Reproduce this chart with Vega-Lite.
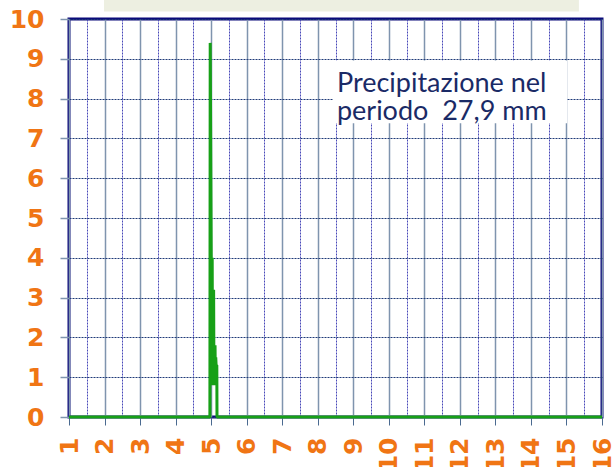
{
  "$schema": "https://vega.github.io/schema/vega-lite/v6.json",
  "width": 533,
  "height": 398,
  "autosize": "none",
  "padding": {"left": 69, "top": 19, "right": 14, "bottom": 50},
  "background": "white",
  "config": {"view": {"stroke": "#0b0b7a", "strokeWidth": 3}},
  "datasets": {
    "rain": [
      {"i": 0, "x": 1, "y": 0},
      {"i": 1, "x": 4.965, "y": 0},
      {"i": 2, "x": 4.974, "y": 9.4},
      {"i": 3, "x": 5.02, "y": 0.8},
      {"i": 4, "x": 5.03, "y": 4.0},
      {"i": 5, "x": 5.04, "y": 0.8},
      {"i": 6, "x": 5.05, "y": 3.2},
      {"i": 7, "x": 5.06, "y": 0.8},
      {"i": 8, "x": 5.07, "y": 3.2},
      {"i": 9, "x": 5.08, "y": 0.8},
      {"i": 10, "x": 5.09, "y": 1.8},
      {"i": 11, "x": 5.1, "y": 0.8},
      {"i": 12, "x": 5.11, "y": 1.8},
      {"i": 13, "x": 5.12, "y": 0.8},
      {"i": 14, "x": 5.13, "y": 1.5},
      {"i": 15, "x": 5.14, "y": 1.3},
      {"i": 16, "x": 5.16, "y": 1.3},
      {"i": 17, "x": 5.165, "y": 0},
      {"i": 18, "x": 16, "y": 0}
    ],
    "banner": [{"x": 1.985, "x2": 15.35, "y": 10.19, "y2": 10.5}],
    "box": [{"x": 8.43, "x2": 15.02, "y": 7.38, "y2": 8.96}],
    "note": [{"x": 8.54, "y": 8.17, "label": "Precipitazione nel\nperiodo\u00a0 27,9 mm"}]
  },
  "encoding": {
    "x": {
      "field": "x",
      "type": "quantitative",
      "scale": {"domain": [1, 16], "nice": false, "zero": false},
      "axis": {
        "title": null,
        "values": [1, 1.5, 2, 2.5, 3, 3.5, 4, 4.5, 5, 5.5, 6, 6.5, 7, 7.5, 8, 8.5, 9, 9.5, 10, 10.5, 11, 11.5, 12, 12.5, 13, 13.5, 14, 14.5, 15, 15.5, 16],
        "labelExpr": "datum.value % 1 === 0 ? format(datum.value, 'd') : ''",
        "labelAngle": -90,
        "labelFont": "DejaVu Sans",
        "labelFontWeight": "bold",
        "labelFontSize": 25,
        "labelColor": "#f07514",
        "labelPadding": 12,
        "labelFlush": false,
        "labelOverlap": false,
        "domain": false,
        "tickSize": 8,
        "tickWidth": 1,
        "tickColor": {"condition": {"test": "datum.value % 1 === 0", "value": "#4a6a90"}, "value": "rgba(0,0,0,0)"},
        "gridColor": {"condition": {"test": "datum.value % 1 === 0", "value": "#7f94ae"}, "value": "#4848b8"},
        "gridDash": {"condition": {"test": "datum.value % 1 === 0", "value": []}, "value": [2, 1]},
        "gridWidth": {"condition": {"test": "datum.value % 1 === 0", "value": 1.5}, "value": 1},
        "gridOpacity": 1
      }
    },
    "y": {
      "field": "y",
      "type": "quantitative",
      "scale": {"domain": [0, 10], "nice": false},
      "axis": {
        "title": null,
        "values": [0, 1, 2, 3, 4, 5, 6, 7, 8, 9, 10],
        "labelFont": "DejaVu Sans",
        "labelFontWeight": "bold",
        "labelFontSize": 25,
        "labelColor": "#f07514",
        "labelPadding": 16,
        "domain": false,
        "tickSize": 9,
        "tickColor": "#7f94ae",
        "tickWidth": 1.5,
        "gridColor": "#1f3a78",
        "gridDash": [2, 1],
        "gridWidth": 1,
        "gridOpacity": 1
      }
    }
  },
  "layer": [
    {
      "data": {"name": "banner"},
      "mark": {"type": "rect", "fill": "#edefe1"},
      "encoding": {"x2": {"field": "x2"}, "y2": {"field": "y2"}}
    },
    {
      "data": {"name": "box"},
      "mark": {"type": "rect", "fill": "white"},
      "encoding": {"x2": {"field": "x2"}, "y2": {"field": "y2"}}
    },
    {
      "data": {"name": "note"},
      "mark": {
        "type": "text",
        "align": "left",
        "baseline": "alphabetic",
        "font": "Lato",
        "fontSize": 27,
        "lineHeight": 28,
        "lineBreak": "\n",
        "color": "#1a2a66"
      },
      "encoding": {"text": {"field": "label"}}
    },
    {
      "data": {"name": "rain"},
      "mark": {"type": "line", "color": "#17a017", "strokeWidth": 3, "strokeJoin": "bevel", "clip": false},
      "encoding": {"order": {"field": "i", "type": "quantitative"}}
    }
  ]
}
